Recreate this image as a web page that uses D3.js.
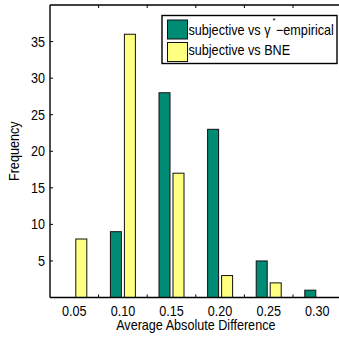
<!DOCTYPE html>
<html>
<head>
<meta charset="utf-8">
<script src="https://cdn.jsdelivr.net/npm/d3@7"></script>
<style>
    body { margin: 0; background: #fff; }
    svg { display: block; font-family: 'Liberation Sans', Arial, sans-serif; }
</style>
</head>
<body>
<div id="chart"></div>
<script>
// DATA
const bins = [0.05, 0.10, 0.15, 0.20, 0.25, 0.30];
const empirical = [0, 9, 28, 23, 5, 1];
const bne = [8, 36, 17, 3, 2, 0];
const yTicks = [5, 10, 15, 20, 25, 30, 35];
const seriesNames = ['subjective vs γ', 'subjective vs BNE'];

// SETTINGS
const dims = { width: 339, height: 337 };
const plot = { left: 50, top: 5, right: 341.6, bottom: 297.5 };
const colors = ['#008c74', '#ffff80'];
const barW = 11;
const fontSize = 14.5;
const narrow = 0.87; // horizontal squeeze to mimic the condensed face

const svg = d3.select('#chart')
    .append('svg')
    .attr('width', dims.width)
    .attr('height', dims.height);

const x = d3.scaleLinear()
    .domain([0.025, 0.325])
    .range([plot.left, plot.right]);
const y = d3.scaleLinear()
    .domain([0, 40])
    .range([plot.bottom, plot.top]);

// helper: text placed at (tx, ty) and squeezed horizontally
const place = (sel, tx, ty, sx = narrow) => sel
    .attr('transform', `translate(${tx},${ty}) scale(${sx},1)`);

// bars: green left of centre, yellow right
const series = [empirical, bne];
series.forEach((vals, s) => {
    svg.append('g').selectAll('rect')
        .data(vals.map((v, i) => ({ bin: bins[i], v })).filter(d => d.v > 0))
        .enter()
        .append('rect')
        .attr('x', d => s === 0 ? x(d.bin) - 1.5 - barW : x(d.bin) + 1.5)
        .attr('y', d => y(d.v))
        .attr('width', barW)
        .attr('height', d => y(0) - y(d.v))
        .attr('fill', colors[s])
        .attr('stroke', '#111')
        .attr('stroke-width', 1);
});

// axes frame
const axisG = svg.append('g').attr('stroke', '#000').attr('stroke-width', 1.4).attr('fill', 'none');
axisG.append('line').attr('x1', plot.left).attr('x2', plot.left).attr('y1', plot.top).attr('y2', plot.bottom);
axisG.append('line').attr('x1', plot.left).attr('x2', dims.width).attr('y1', plot.bottom).attr('y2', plot.bottom);
axisG.append('line').attr('x1', plot.left).attr('x2', dims.width).attr('y1', plot.top).attr('y2', plot.top);

// x ticks at midpoints between bins, inward top and bottom
const midTicks = bins.slice(0, -1).map(b => b + 0.025);
const tickG = svg.append('g').attr('stroke', '#000').attr('stroke-width', 1);
midTicks.forEach(t => {
    tickG.append('line').attr('x1', x(t)).attr('x2', x(t)).attr('y1', plot.bottom).attr('y2', plot.bottom - 3);
    tickG.append('line').attr('x1', x(t)).attr('x2', x(t)).attr('y1', plot.top).attr('y2', plot.top + 3);
});
yTicks.forEach(t => {
    tickG.append('line').attr('x1', plot.left).attr('x2', plot.left + 3).attr('y1', y(t)).attr('y2', y(t));
});

// tick labels
svg.append('g').selectAll('text')
    .data(bins)
    .enter()
    .append('text')
    .each(function(d) { place(d3.select(this), x(d), 315.5); })
    .attr('text-anchor', 'middle')
    .attr('font-size', fontSize)
    .text(d => d3.format('.2f')(d));

svg.append('g').selectAll('text')
    .data(yTicks)
    .enter()
    .append('text')
    .each(function(d) { place(d3.select(this), 45, y(d) + 5); })
    .attr('text-anchor', 'end')
    .attr('font-size', fontSize)
    .text(d => d);

// axis titles
svg.append('text')
    .call(place, (plot.left + plot.right) / 2, 330)
    .attr('text-anchor', 'middle')
    .attr('font-size', fontSize)
    .text('Average Absolute Difference');

svg.append('text')
    .attr('transform', `translate(19, ${(plot.top + plot.bottom) / 2}) rotate(-90) scale(${narrow},1)`)
    .attr('text-anchor', 'middle')
    .attr('font-size', fontSize)
    .text('Frequency');

// legend
const legend = svg.append('g').attr('transform', 'translate(162, 15.5)');
legend.append('rect')
    .attr('width', 175)
    .attr('height', 48)
    .attr('fill', '#fff')
    .attr('stroke', '#000')
    .attr('stroke-width', 1.4);

seriesNames.forEach((name, i) => {
    legend.append('rect')
        .attr('x', 5.5)
        .attr('y', 4.5 + i * 22.5)
        .attr('width', 20)
        .attr('height', 19)
        .attr('fill', colors[i])
        .attr('stroke', '#111')
        .attr('stroke-width', 1);
    legend.append('text')
        .call(place, 26.5, 19.5 + i * 20)
        .attr('font-size', fontSize)
        .text(name);
});
// superscript star and suffix of the first entry
legend.append('text')
    .attr('x', 110.5)
    .attr('y', 7.5)
    .attr('font-size', 8)
    .text('*');
legend.append('text')
    .call(place, 114, 19.5)
    .attr('font-size', fontSize)
    .text('−empirical');
</script>
</body>
</html>
